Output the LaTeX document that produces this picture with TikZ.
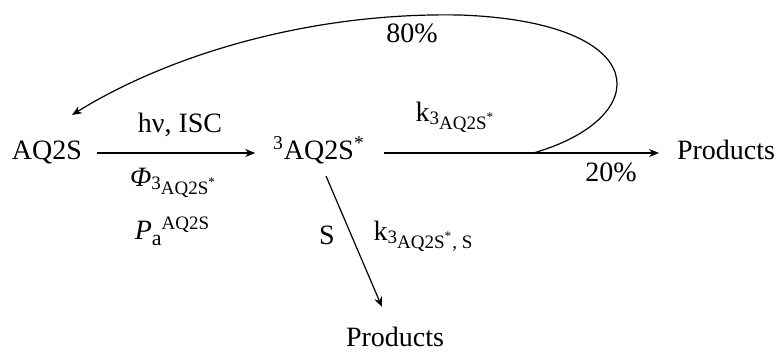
\documentclass[tikz,border=0pt]{standalone}
\usepackage{fontspec}
\setmainfont{Liberation Serif}
\usetikzlibrary{arrows.meta}

\newcommand{\lowpart}[1]{\raisebox{-4pt}{\fontsize{9.5}{10}\selectfont #1}}
\newcommand{\trip}{\raisebox{2.5pt}{3}AQ2S\textsuperscript{*}}

\begin{document}
\begin{tikzpicture}[x=0.5pt, y=-0.5pt,
    spec/.style={inner sep=0pt, outer sep=0pt, text height=10pt, text depth=3pt, font=\fontsize{14}{17}\selectfont},
    lab/.style={inner sep=0pt, font=\fontsize{14}{17}\selectfont},
    arr/.style={-{Stealth[length=5pt, width=4pt]}, line width=0.6pt}
]
\useasboundingbox (0,0) rectangle (783,352);
% species
\node[spec] (aqs) at (47,153) {AQ2S};
\node[spec] (trip) at (319,153) {\textsuperscript{3}AQ2S\textsuperscript{*}};
\node[spec] (prodr) at (726,153) {Products};
\node[spec] (prodb) at (395,340) {Products};
% labels
\node[lab] (hv) at (180,125) {hν, ISC};
\node[lab] (phi) at (173,183) {\textit{Φ}\lowpart{\trip}};
\node[lab] (pa) at (172,231) {\textit{P}\raisebox{-3pt}{\fontsize{11}{12}\selectfont a}\raisebox{5pt}{\fontsize{9.5}{10}\selectfont AQ2S}};
\node[lab] (kt) at (455,117) {k\lowpart{\trip}};
\node[lab] (s) at (327,235) {S};
\node[lab] (ks) at (423,236) {k\lowpart{\trip, S}};
\node[lab] (p80) at (412,33) {80\%};
\node[lab] (p20) at (611,172) {20\%};
% arrows
\draw[arr, shorten <=7.5pt, shorten >=9pt] (aqs.east) -- (trip.west);
\draw[arr, shorten <=9.5pt, shorten >=9pt] (trip.east) -- coordinate[pos=0.54] (split) (prodr.west);
\draw[arr] ([shift={(3.5pt,-5pt)}]trip.south) -- ([shift={(-6.5pt,10pt)}]prodb.north);
\draw[arr] (split) .. controls (655,118) and (655,22) .. (460,15) .. controls (300,12) and (160,60) .. ([shift={(12.5pt,12.5pt)}]aqs.north);
\end{tikzpicture}
\end{document}
